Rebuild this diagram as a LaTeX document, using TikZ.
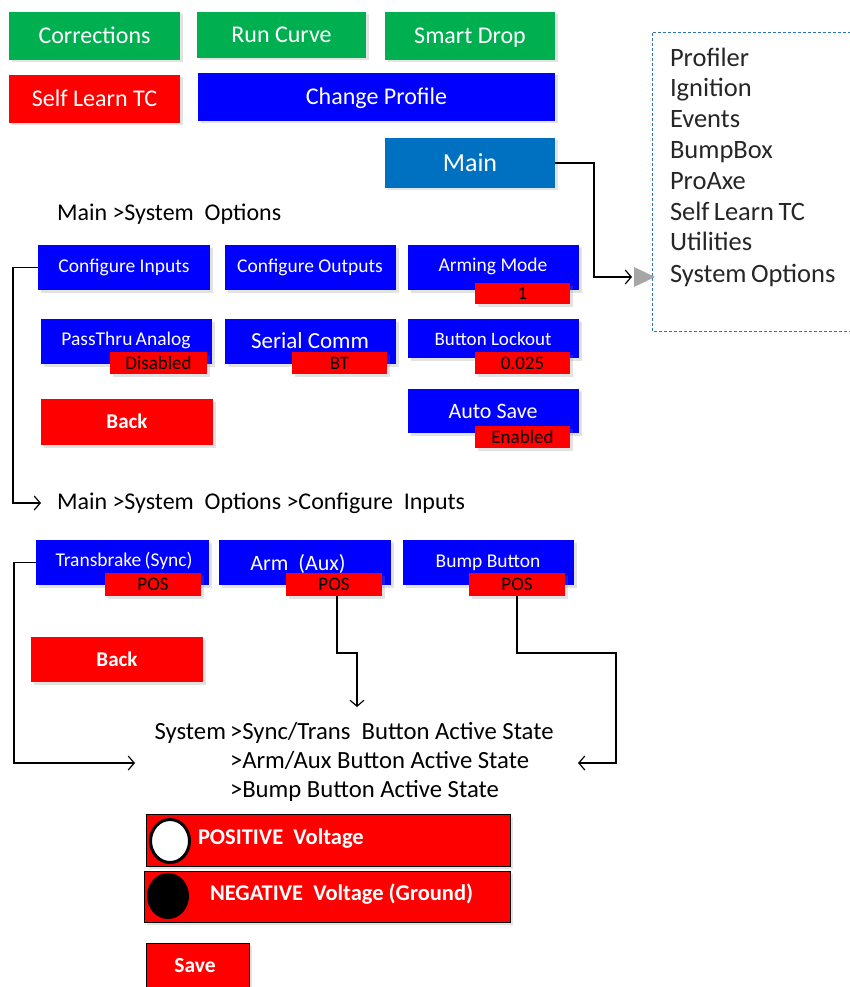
\documentclass[tikz,border=0pt]{standalone}
\usepackage{fontspec}
\setmainfont{Carlito}
\usetikzlibrary{shadows,arrows.meta}
\definecolor{grn}{HTML}{00B050}
\definecolor{rd}{HTML}{FF0000}
\definecolor{bl}{HTML}{0000FF}
\definecolor{mb}{HTML}{0070C0}
\definecolor{dashb}{HTML}{2E75B6}
\definecolor{tri}{HTML}{A6A6A6}
\definecolor{txt}{HTML}{262626}
\newcommand{\mkbox}[7][]{\node[box,fill=#3,minimum width={(#6-#4)*1pt},minimum height={(#7-#5)*1pt},#1] (#2) at ({(#4+#6)/2},{(#5+#7)/2}) {};}
\tikzset{
  box/.style={draw=none, inner sep=0pt, outer sep=0pt, drop shadow={shadow xshift=2.5pt, shadow yshift=-2.5pt, opacity=0.22}},
  fs/.style={font=\fontsize{#1pt}{#1pt}\selectfont, text height={0.64*#1pt}, text depth=0pt, inner sep=0pt, outer sep=0pt},
  bt/.style={fs=#1, text=white},
  bbt/.style={fs=#1, text=white, font=\fontsize{#1pt}{#1pt}\selectfont\bfseries},
  vt/.style={fs=#1, text=black},
  lt/.style={fs=#1, text=txt, anchor=west},
  conn/.style={draw=black, line width=1.2pt},
  arr/.style={-{Straight Barb[length=6pt,width=14pt,line width=1.2pt]}},
}
\begin{document}
\begin{tikzpicture}[x=1pt,y=-1pt]
\useasboundingbox (0,0) rectangle (849,987);
% top buttons
\mkbox{corr}{grn}{9}{12}{180}{60}
\node[bt=24] (corrT) at (corr.center) {Corrections};
\mkbox{runc}{grn}{197}{12}{366}{58}
\node[bt=24] (runcT) at (runc.center) {Run Curve};
\mkbox{smart}{grn}{385}{12}{555}{60}
\node[bt=24] (smartT) at (smart.center) {Smart Drop};
\mkbox{sltc}{rd}{9}{75}{180}{123}
\node[bt=24] (sltcT) at (sltc.center) {Self Learn TC};
\mkbox{chp}{bl}{198}{73}{555}{121}
\node[bt=24] (chpT) at (chp.center) {Change Profile};
\mkbox{main}{mb}{385}{138}{555}{188}
\node[bt=26] (mainT) at (main.center) {Main};
% menu list
\draw[dashb, line width=1pt, dash pattern=on 3pt off 2pt] (652,33) rectangle (856,331);
\node[lt=26.5] (l1) at (670,58) {Profiler};
\node[lt=26.5] (l2) at (670,88) {Ignition};
\node[lt=26.5] (l3) at (670,119) {Events};
\node[lt=26.5] (l4) at (670,150) {BumpBox};
\node[lt=26.5] (l5) at (670,181) {ProAxe};
\node[lt=26.5] (l6) at (670,212) {Self\,Learn\,TC};
\node[lt=26.5] (l7) at (670,242) {Utilities};
\node[lt=26.5] (l8) at (670,274) {System\,Options};
\fill[tri] (634,267) -- (655,277) -- (634,287) -- cycle;
\coordinate (m1) at (594,277);
\coordinate (m2) at (632,277);
\draw[conn,arr] (main.east) -| (m1) -- (m2);
% system options
\node[lt=24, text=black] (so) at (57,213) {Main >System\ \ Options};
\mkbox{ci}{bl}{38}{245}{210}{290}
\node[bt=19.5] (ciT) at (124,266) {Configure Inputs};
\mkbox{co}{bl}{225}{245}{396}{290}
\node[bt=19.5] (coT) at (310,266) {Configure Outputs};
\mkbox{am}{bl}{408}{245}{579}{290}
\node[bt=19.5] (amT) at (493,265) {Arming Mode};
\mkbox{amv}{rd}{475}{283}{570}{304}
\node[vt=19] (amvT) at (amv.center) {1};
\mkbox{pa}{bl}{41}{319}{212}{364}
\node[bt=19.5] (paT) at (126,339) {PassThru\,Analog};
\mkbox{pav}{rd}{110}{352}{207}{374}
\node[vt=19] (pavT) at (pav.center) {Disabled};
\mkbox{sc}{bl}{225}{319}{396}{364}
\node[bt=23] (scT) at (310,341) {Serial Comm};
\mkbox{scv}{rd}{292}{352}{387}{374}
\node[vt=19] (scvT) at (scv.center) {BT};
\mkbox{bl}{bl}{408}{319}{579}{358}
\node[bt=19] (blT) at (493,339) {Button Lockout};
\mkbox{blv}{rd}{475}{352}{570}{374}
\node[vt=19] (blvT) at (blv.center) {0.025};
\mkbox{back1}{rd}{41}{399}{213}{445}
\node[bbt=21] (back1T) at (back1.center) {Back};
\mkbox{as}{bl}{408}{389}{579}{433}
\node[bt=22] (asT) at (493,411) {Auto Save};
\mkbox{asv}{rd}{475}{426}{570}{448}
\node[vt=19] (asvT) at (asv.center) {Enabled};
% configure inputs
\node[lt=24, text=black] (cfg) at (57,502) {Main >System\ \ Options >Configure\ \ Inputs};
\coordinate (c1) at (13,503);
\coordinate (c2) at (41,503);
\draw[conn,arr] (ci.west) -| (c1) -- (c2);
\mkbox{tb}{bl}{36}{540}{209}{585}
\node[bt=19.5] (tbT) at (124,560) {Transbrake\,(Sync)};
\mkbox{tbv}{rd}{105}{573}{201}{596}
\node[vt=19] (tbvT) at (tbv.center) {POS};
\mkbox{arm}{bl}{219}{540}{391}{585}
\node[bt=22] (armT) at (298,563) {Arm\ \ (Aux)};
\mkbox{armv}{rd}{286}{573}{382}{596}
\node[vt=19] (armvT) at (armv.center) {POS};
\mkbox{bb}{bl}{403}{540}{574}{585}
\node[bt=19.5] (bbT) at (488,561) {Bump Button};
\mkbox{bbv}{rd}{469}{573}{565}{596}
\node[vt=19] (bbvT) at (bbv.center) {POS};
\mkbox{back2}{rd}{31}{637}{203}{682}
\node[bbt=21] (back2T) at (back2.center) {Back};
% active state text
\node[lt=24.7, text=black] (s1) at (230,732) {>Sync/Trans\ \ Button Active State};
\node[fs=24.7, text=black, anchor=east] (s0) at ([xshift=-4pt]s1.west) {System};
\node[lt=24.7, text=black] (s2) at (230,761) {>Arm/Aux Button Active State};
\node[lt=24.7, text=black] (s3) at (230,790) {>Bump Button Active State};
% connectors to active state
\coordinate (t1) at (14,763);
\coordinate (t2) at (135,763);
\draw[conn,arr] (tb.west) -| (t1) -- (t2);
\coordinate (a1) at (337,653);
\coordinate (a2) at (357,653);
\coordinate (a3) at (357,707);
\draw[conn,arr] (armv.south -| a1) -- (a1) -- (a2) -- (a3);
\coordinate (b1) at (517,653);
\coordinate (b2) at (616,653);
\coordinate (b3) at (616,763);
\coordinate (b4) at (578,763);
\draw[conn,arr] (bbv.south -| b1) -- (b1) -- (b2) -- (b3) -- (b4);
% voltage choices
\mkbox[draw=black, line width=0.8pt]{pos}{rd}{146}{814}{510}{866}
\draw[black, line width=3pt, fill=white] (170,841) ellipse [x radius=19.5, y radius=21.5];
\node[bbt=22.5, anchor=west] (posT) at (198,837) {POSITIVE\ \ Voltage};
\mkbox[draw=black, line width=0.8pt]{neg}{rd}{144}{871}{510}{922}
\fill[black] (168,896) ellipse [x radius=21, y radius=23];
\node[bbt=22.5, anchor=west] (negT) at (210,893) {NEGATIVE\ \ Voltage (Ground)};
\mkbox[draw=black, line width=0.8pt]{save}{rd}{146}{943}{249}{992}
\node[bbt=21.5] (saveT) at (195,966) {Save};
\end{tikzpicture}
\end{document}
